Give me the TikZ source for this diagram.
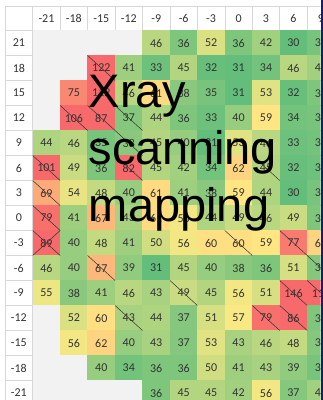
\documentclass[tikz,border=0pt]{standalone}
\usepackage{fontspec}
\setmainfont{Carlito}
\newfontfamily\overlayfont{Liberation Sans}
\definecolor{hmgreen}{RGB}{99,190,123}
\definecolor{hmyellow}{RGB}{255,235,132}
\definecolor{hmred}{RGB}{248,105,107}
\definecolor{hmblank}{RGB}{242,242,242}
\definecolor{gridgray}{RGB}{216,216,216}
\definecolor{edgeblue}{RGB}{24,24,128}
\tikzset{
  cell/.style={minimum width=27.45pt,minimum height=25pt,inner sep=0pt,outer sep=0pt,
    font=\fontsize{12}{12}\selectfont,text=black!80},
  hdr/.style={cell,draw=gridgray,line width=0.7pt,fill=white},
  cut/.style={black!80,line width=0.5pt},
  bigword/.style={anchor=base west,inner sep=0pt,font=\overlayfont\fontsize{47}{47}\selectfont}
}
\begin{document}
\begin{tikzpicture}[x=1pt,y=-1pt]
\useasboundingbox (0,0) rectangle (323,400);
\begin{scope}
\clip (0,0) rectangle (320.5,400);
% header row and row labels
\node[hdr,minimum width=27.7pt,minimum height=24.5pt] (corner) at (18.85,18.25) {};
\foreach \k in {0,...,10}{
  \pgfmathsetmacro\cx{32.7+27.45*(\k+0.5)}
  \pgfmathtruncatemacro\lab{-21+3*\k}
  \node[hdr,minimum height=24.5pt] (h-\k) at (\cx,18.25) {\lab};
}
\foreach \j in {0,...,14}{
  \pgfmathsetmacro\cy{30.5+25*(\j+0.5)}
  \pgfmathtruncatemacro\lab{21-3*\j}
  \node[hdr,minimum width=27.7pt] (r-\j) at (18.85,\cy) {\lab};
}
% counts, one row per line, 0 = no reading
\foreach \vals [count=\j from 0] in {
  {0,0,0,0,46,36,52,36,42,30,35},
  {0,0,122,41,33,45,32,31,34,46,42},
  {0,75,112,46,61,38,35,31,53,32,36},
  {0,106,87,37,44,36,33,40,59,34,35},
  {44,46,35,38,45,40,31,53,46,33,34},
  {101,49,36,82,45,42,34,62,45,32,33},
  {69,54,48,40,61,41,38,59,44,30,35},
  {79,41,67,43,61,56,44,49,46,49,36},
  {89,40,48,41,50,56,60,60,59,77,62},
  {46,40,67,39,31,45,40,38,36,51,37},
  {55,38,41,46,43,49,45,56,51,146,118},
  {0,52,60,43,44,37,51,57,79,86,36},
  {0,56,62,40,43,37,53,43,46,48,37},
  {0,0,40,34,36,36,50,41,43,39,35},
  {0,0,0,0,36,45,45,42,56,37,42}}{
  \foreach \v [count=\k from 0] in \vals {
    \pgfmathsetmacro\cx{32.7+27.45*(\k+0.5)}
    \pgfmathsetmacro\cy{30.5+25*(\j+0.5)}
    \ifnum\v=0
      \node[cell,fill=hmblank,draw=hmblank,line width=0.3pt] (c-\k-\j) at (\cx,\cy) {};
    \else
      \ifnum\v<58
        \pgfmathtruncatemacro\mix{max(0,min(100,(\v-31)/27*100))}
        \colorlet{cellfill}{hmyellow!\mix!hmgreen}
      \else
        \pgfmathtruncatemacro\mix{min(100,(\v-58)/22*100)}
        \colorlet{cellfill}{hmred!\mix!hmyellow}
      \fi
      \node[cell,fill=cellfill,draw=cellfill,line width=0.3pt] (c-\k-\j) at (\cx,\cy) {\v};
    \fi
  }
}
% struck-out cells
\foreach \k/\j in {2/1,1/3,2/3,3/3,3/4,0/5,3/5,8/5,0/6,0/7,0/8,2/9,7/8,9/8,10/9,5/10,9/10,10/10,3/11,8/11,9/11}
  \draw[cut] (c-\k-\j.north west) -- (c-\k-\j.south east);
\draw[cut] (c-0-8.north east) -- (c-0-8.south west);
\end{scope}
\fill[edgeblue] (320.5,0) rectangle (323,400);
% title written over the map
\node[bigword] (xray) at (88.7,107.5) {Xray};
\node[bigword] (scanning) at (88.7,164.5) {scanning};
\node[bigword] (mapping) at (88.7,221.5) {mapping};
\end{tikzpicture}
\end{document}
